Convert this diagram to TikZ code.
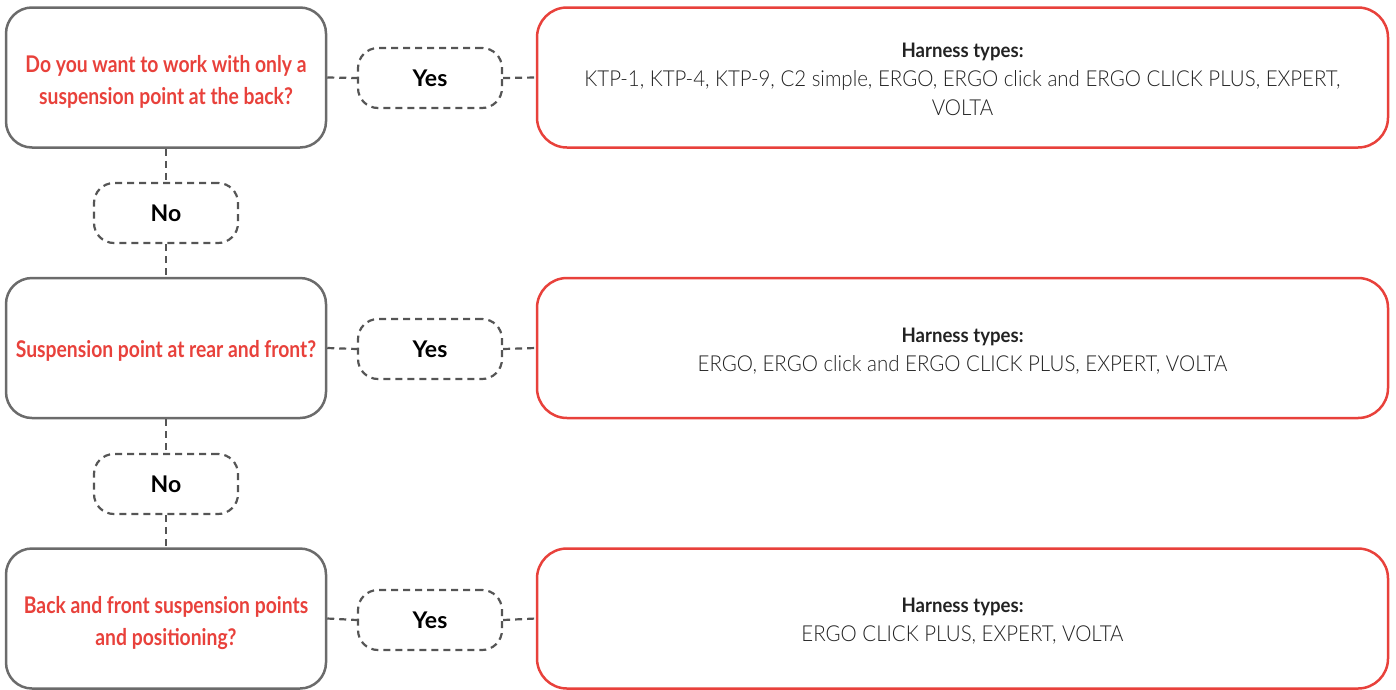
\documentclass[tikz,border=0pt]{standalone}
\usepackage{fontspec}
\setmainfont{Lato}
\newfontfamily\boldcond[FakeStretch=0.84]{Lato Bold}
\newfontfamily\boldhead[FakeStretch=0.93]{Lato Bold}
\newfontfamily\boldreg{Lato Bold}
\newfontfamily\lightcond[FakeStretch=0.93]{Lato Light}
\definecolor{qred}{HTML}{E8413B}
\definecolor{lgray}{HTML}{6B6B6B}
\definecolor{dgray}{HTML}{555555}
\definecolor{bodytxt}{HTML}{222222}
\tikzset{
  qbox/.style={draw=lgray, line width=2.5pt, rounded corners=26pt, minimum width=320pt, minimum height=140pt, inner sep=0pt, align=center, text=qred, font=\boldcond\fontsize{23}{32}\selectfont},
  ansbox/.style={draw=dgray, line width=2.2pt, dash pattern=on 7pt off 5pt, rounded corners=20pt, minimum width=144pt, minimum height=60pt, inner sep=0pt, font=\boldreg\fontsize{23}{26}\selectfont, text=black},
  resbox/.style={draw=qred, line width=2.5pt, rounded corners=30pt, minimum width=851pt, minimum height=140pt, inner sep=0pt, align=center, text=bodytxt, font=\lightcond\fontsize{22}{29}\selectfont},
  conn/.style={draw=dgray, line width=2.2pt, dash pattern=on 7pt off 5pt}
}
\newcommand{\htit}{{\boldhead\fontsize{20}{29}\selectfont Harness types:}}
\newcommand{\dn}[2]{\raisebox{#1}[\height][\depth]{\begin{tabular}{@{}c@{}}#2\end{tabular}}}
\begin{document}
\begin{tikzpicture}[x=1pt,y=-1pt]
\useasboundingbox (0,0) rectangle (1396,689);
\node[qbox] (q1) at (166,77.5) {\dn{-4.5pt}{Do you want to work with only a\\suspension point at the back?}};
\node[qbox] (q2) at (166,348) {\dn{-3pt}{Suspension point at rear and front?}};
\node[qbox] (q3) at (166,618.5) {\dn{-4.5pt}{Back and front suspension points\\and positioning?}};
\node[ansbox] (y1) at (430,78) {Yes};
\node[ansbox] (y2) at (430,349) {Yes};
\node[ansbox] (y3) at (430,620) {Yes};
\node[ansbox] (n1) at (166,213) {No};
\node[ansbox] (n2) at (166,484) {No};
\node[resbox] (r1) at (962.5,77.5) {\dn{-3pt}{\htit\\KTP-1, KTP-4, KTP-9, C2 simple, ERGO, ERGO click and ERGO CLICK PLUS, EXPERT,\\VOLTA}};
\node[resbox] (r2) at (962.5,348) {\dn{-3pt}{\htit\\ERGO, ERGO click and ERGO CLICK PLUS, EXPERT, VOLTA}};
\node[resbox] (r3) at (962.5,618.5) {\dn{-3pt}{\htit\\ERGO CLICK PLUS, EXPERT, VOLTA}};
\draw[conn] (q1.east) -- (y1.west);
\draw[conn] (y1.east) -- (r1.west);
\draw[conn] (q2.east) -- (y2.west);
\draw[conn] (y2.east) -- (r2.west);
\draw[conn] (q3.east) -- (y3.west);
\draw[conn] (y3.east) -- (r3.west);
\draw[conn] (q1.south) -- (n1.north);
\draw[conn] (n1.south) -- (q2.north);
\draw[conn] (q2.south) -- (n2.north);
\draw[conn] (n2.south) -- (q3.north);
\end{tikzpicture}
\end{document}
